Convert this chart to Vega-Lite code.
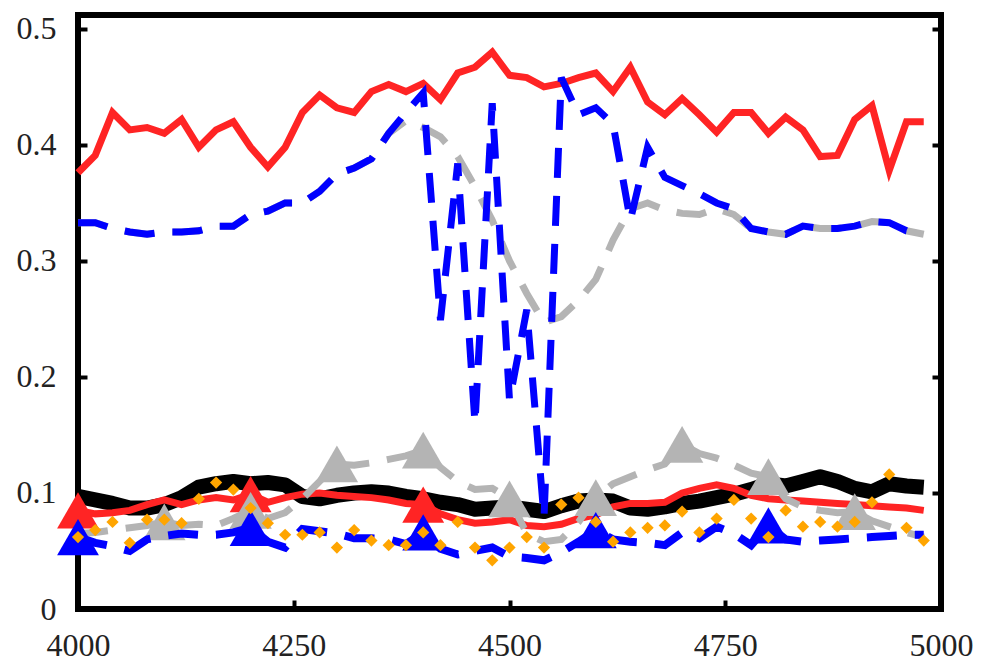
{
  "$schema": "https://vega.github.io/schema/vega-lite/v6.json",
  "width": 863,
  "height": 594,
  "autosize": "none",
  "padding": {"left": 78, "top": 15, "right": 47, "bottom": 59},
  "background": "white",
  "view": {"stroke": "black", "strokeWidth": 6, "fill": "white"},
  "config": {
    "view": {"stroke": "black", "strokeWidth": 6},
    "axis": {
      "tickSize": -9,
      "tickWidth": 4,
      "tickColor": "black",
      "domain": false,
      "grid": false,
      "labelFont": "Liberation Serif",
      "labelFontSize": 32,
      "labelColor": "#222222",
      "labelFlush": false,
      "labelOverlap": false,
      "labelBound": false,
      "title": null
    },
    "axisX": {"labelPadding": 30},
    "axisY": {"labelPadding": 31}
  },
  "datasets": {
    "redUpper": [
      {"x": 4000, "y": 0.376}, {"x": 4020, "y": 0.391}, {"x": 4040, "y": 0.428}, {"x": 4060, "y": 0.413}, {"x": 4080, "y": 0.415},
      {"x": 4100, "y": 0.410}, {"x": 4120, "y": 0.422}, {"x": 4140, "y": 0.398}, {"x": 4160, "y": 0.413}, {"x": 4180, "y": 0.420},
      {"x": 4200, "y": 0.398}, {"x": 4220, "y": 0.381}, {"x": 4240, "y": 0.398}, {"x": 4260, "y": 0.428}, {"x": 4280, "y": 0.443},
      {"x": 4300, "y": 0.432}, {"x": 4320, "y": 0.428}, {"x": 4340, "y": 0.446}, {"x": 4360, "y": 0.452}, {"x": 4380, "y": 0.446},
      {"x": 4400, "y": 0.453}, {"x": 4420, "y": 0.439}, {"x": 4440, "y": 0.462}, {"x": 4460, "y": 0.467}, {"x": 4480, "y": 0.480},
      {"x": 4500, "y": 0.460}, {"x": 4520, "y": 0.458}, {"x": 4540, "y": 0.450}, {"x": 4560, "y": 0.453}, {"x": 4580, "y": 0.458},
      {"x": 4600, "y": 0.462}, {"x": 4620, "y": 0.446}, {"x": 4640, "y": 0.467}, {"x": 4660, "y": 0.437}, {"x": 4680, "y": 0.426},
      {"x": 4700, "y": 0.440}, {"x": 4720, "y": 0.426}, {"x": 4740, "y": 0.411}, {"x": 4760, "y": 0.428}, {"x": 4780, "y": 0.428},
      {"x": 4800, "y": 0.410}, {"x": 4820, "y": 0.424}, {"x": 4840, "y": 0.413}, {"x": 4860, "y": 0.390}, {"x": 4880, "y": 0.391},
      {"x": 4900, "y": 0.422}, {"x": 4920, "y": 0.434}, {"x": 4940, "y": 0.378}, {"x": 4960, "y": 0.420}, {"x": 4980, "y": 0.420}
    ],
    "grayUpper": [
      {"x": 4000, "y": 0.333}, {"x": 4020, "y": 0.333}, {"x": 4040, "y": 0.328}, {"x": 4060, "y": 0.325}, {"x": 4080, "y": 0.323},
      {"x": 4100, "y": 0.325}, {"x": 4120, "y": 0.325}, {"x": 4140, "y": 0.326}, {"x": 4160, "y": 0.330}, {"x": 4180, "y": 0.330},
      {"x": 4200, "y": 0.340}, {"x": 4220, "y": 0.343}, {"x": 4240, "y": 0.350}, {"x": 4260, "y": 0.350}, {"x": 4280, "y": 0.360},
      {"x": 4300, "y": 0.375}, {"x": 4320, "y": 0.380}, {"x": 4340, "y": 0.388}, {"x": 4360, "y": 0.410}, {"x": 4380, "y": 0.421},
      {"x": 4400, "y": 0.415}, {"x": 4420, "y": 0.407}, {"x": 4440, "y": 0.390}, {"x": 4460, "y": 0.364}, {"x": 4480, "y": 0.335},
      {"x": 4500, "y": 0.300}, {"x": 4520, "y": 0.272}, {"x": 4540, "y": 0.247}, {"x": 4560, "y": 0.252}, {"x": 4580, "y": 0.266},
      {"x": 4600, "y": 0.284}, {"x": 4620, "y": 0.318}, {"x": 4640, "y": 0.345}, {"x": 4660, "y": 0.350}, {"x": 4680, "y": 0.344},
      {"x": 4700, "y": 0.341}, {"x": 4720, "y": 0.340}, {"x": 4740, "y": 0.345}, {"x": 4760, "y": 0.340}, {"x": 4780, "y": 0.328},
      {"x": 4800, "y": 0.325}, {"x": 4820, "y": 0.323}, {"x": 4840, "y": 0.330}, {"x": 4860, "y": 0.328}, {"x": 4880, "y": 0.328},
      {"x": 4900, "y": 0.330}, {"x": 4920, "y": 0.334}, {"x": 4940, "y": 0.333}, {"x": 4960, "y": 0.326}, {"x": 4980, "y": 0.323}
    ],
    "blueUpper": [
      {"x": 4000, "y": 0.333}, {"x": 4020, "y": 0.333}, {"x": 4040, "y": 0.328}, {"x": 4060, "y": 0.325}, {"x": 4080, "y": 0.323},
      {"x": 4100, "y": 0.325}, {"x": 4120, "y": 0.325}, {"x": 4140, "y": 0.326}, {"x": 4160, "y": 0.330}, {"x": 4180, "y": 0.330},
      {"x": 4200, "y": 0.340}, {"x": 4220, "y": 0.343}, {"x": 4240, "y": 0.350}, {"x": 4260, "y": 0.350}, {"x": 4280, "y": 0.360},
      {"x": 4300, "y": 0.375}, {"x": 4320, "y": 0.380}, {"x": 4340, "y": 0.388}, {"x": 4360, "y": 0.410}, {"x": 4380, "y": 0.428},
      {"x": 4400, "y": 0.445}, {"x": 4420, "y": 0.249}, {"x": 4440, "y": 0.384}, {"x": 4460, "y": 0.160}, {"x": 4480, "y": 0.436},
      {"x": 4500, "y": 0.180}, {"x": 4520, "y": 0.258}, {"x": 4540, "y": 0.079}, {"x": 4560, "y": 0.458}, {"x": 4580, "y": 0.426},
      {"x": 4600, "y": 0.432}, {"x": 4620, "y": 0.418}, {"x": 4640, "y": 0.335}, {"x": 4660, "y": 0.398}, {"x": 4680, "y": 0.372},
      {"x": 4700, "y": 0.365}, {"x": 4720, "y": 0.358}, {"x": 4740, "y": 0.350}, {"x": 4760, "y": 0.345}, {"x": 4780, "y": 0.328},
      {"x": 4800, "y": 0.325}, {"x": 4820, "y": 0.323}, {"x": 4840, "y": 0.330}, {"x": 4860, "y": 0.328}, {"x": 4880, "y": 0.328},
      {"x": 4900, "y": 0.330}, {"x": 4920, "y": 0.334}, {"x": 4940, "y": 0.333}, {"x": 4960, "y": 0.326}, {"x": 4980, "y": 0.323}
    ],
    "black": [
      {"x": 4000, "y": 0.097}, {"x": 4020, "y": 0.094}, {"x": 4040, "y": 0.091}, {"x": 4060, "y": 0.087}, {"x": 4080, "y": 0.087},
      {"x": 4100, "y": 0.090}, {"x": 4120, "y": 0.096}, {"x": 4140, "y": 0.105}, {"x": 4160, "y": 0.108}, {"x": 4180, "y": 0.110},
      {"x": 4200, "y": 0.108}, {"x": 4220, "y": 0.109}, {"x": 4240, "y": 0.107}, {"x": 4260, "y": 0.097}, {"x": 4280, "y": 0.095},
      {"x": 4300, "y": 0.098}, {"x": 4320, "y": 0.100}, {"x": 4340, "y": 0.101}, {"x": 4360, "y": 0.100}, {"x": 4380, "y": 0.097},
      {"x": 4400, "y": 0.095}, {"x": 4420, "y": 0.092}, {"x": 4440, "y": 0.090}, {"x": 4460, "y": 0.086}, {"x": 4480, "y": 0.087},
      {"x": 4500, "y": 0.088}, {"x": 4520, "y": 0.086}, {"x": 4540, "y": 0.084}, {"x": 4560, "y": 0.089}, {"x": 4580, "y": 0.093},
      {"x": 4600, "y": 0.094}, {"x": 4620, "y": 0.093}, {"x": 4640, "y": 0.087}, {"x": 4660, "y": 0.086}, {"x": 4680, "y": 0.088},
      {"x": 4700, "y": 0.091}, {"x": 4720, "y": 0.093}, {"x": 4740, "y": 0.096}, {"x": 4760, "y": 0.099}, {"x": 4780, "y": 0.103},
      {"x": 4800, "y": 0.108}, {"x": 4820, "y": 0.106}, {"x": 4840, "y": 0.110}, {"x": 4860, "y": 0.114}, {"x": 4880, "y": 0.110},
      {"x": 4900, "y": 0.104}, {"x": 4920, "y": 0.101}, {"x": 4940, "y": 0.108}, {"x": 4960, "y": 0.106}, {"x": 4980, "y": 0.105}
    ],
    "redLower": [
      {"x": 4000, "y": 0.085}, {"x": 4020, "y": 0.082}, {"x": 4040, "y": 0.083}, {"x": 4060, "y": 0.085}, {"x": 4080, "y": 0.090},
      {"x": 4100, "y": 0.094}, {"x": 4120, "y": 0.090}, {"x": 4140, "y": 0.094}, {"x": 4160, "y": 0.096}, {"x": 4180, "y": 0.094},
      {"x": 4200, "y": 0.099}, {"x": 4220, "y": 0.092}, {"x": 4240, "y": 0.096}, {"x": 4260, "y": 0.099}, {"x": 4280, "y": 0.100},
      {"x": 4300, "y": 0.098}, {"x": 4320, "y": 0.097}, {"x": 4340, "y": 0.096}, {"x": 4360, "y": 0.094}, {"x": 4380, "y": 0.091},
      {"x": 4400, "y": 0.090}, {"x": 4420, "y": 0.082}, {"x": 4440, "y": 0.077}, {"x": 4460, "y": 0.074}, {"x": 4480, "y": 0.075},
      {"x": 4500, "y": 0.077}, {"x": 4520, "y": 0.072}, {"x": 4540, "y": 0.071}, {"x": 4560, "y": 0.073}, {"x": 4580, "y": 0.078},
      {"x": 4600, "y": 0.081}, {"x": 4620, "y": 0.088}, {"x": 4640, "y": 0.091}, {"x": 4660, "y": 0.091}, {"x": 4680, "y": 0.092},
      {"x": 4700, "y": 0.100}, {"x": 4720, "y": 0.104}, {"x": 4740, "y": 0.107}, {"x": 4760, "y": 0.104}, {"x": 4780, "y": 0.098},
      {"x": 4800, "y": 0.095}, {"x": 4820, "y": 0.094}, {"x": 4840, "y": 0.093}, {"x": 4860, "y": 0.092}, {"x": 4880, "y": 0.091},
      {"x": 4900, "y": 0.090}, {"x": 4920, "y": 0.089}, {"x": 4940, "y": 0.088}, {"x": 4960, "y": 0.087}, {"x": 4980, "y": 0.085}
    ],
    "grayLower": [
      {"x": 4000, "y": 0.065}, {"x": 4020, "y": 0.066}, {"x": 4040, "y": 0.068}, {"x": 4060, "y": 0.070}, {"x": 4080, "y": 0.072},
      {"x": 4100, "y": 0.075}, {"x": 4120, "y": 0.072}, {"x": 4140, "y": 0.073}, {"x": 4160, "y": 0.072}, {"x": 4180, "y": 0.078},
      {"x": 4200, "y": 0.085}, {"x": 4220, "y": 0.078}, {"x": 4240, "y": 0.083}, {"x": 4260, "y": 0.095}, {"x": 4280, "y": 0.110},
      {"x": 4300, "y": 0.125}, {"x": 4320, "y": 0.124}, {"x": 4340, "y": 0.126}, {"x": 4360, "y": 0.129}, {"x": 4380, "y": 0.132},
      {"x": 4400, "y": 0.137}, {"x": 4420, "y": 0.122}, {"x": 4440, "y": 0.110}, {"x": 4460, "y": 0.103}, {"x": 4480, "y": 0.104},
      {"x": 4500, "y": 0.095}, {"x": 4520, "y": 0.065}, {"x": 4540, "y": 0.058}, {"x": 4560, "y": 0.060}, {"x": 4580, "y": 0.075},
      {"x": 4600, "y": 0.096}, {"x": 4620, "y": 0.108}, {"x": 4640, "y": 0.114}, {"x": 4660, "y": 0.120}, {"x": 4680, "y": 0.125},
      {"x": 4700, "y": 0.142}, {"x": 4720, "y": 0.134}, {"x": 4740, "y": 0.130}, {"x": 4760, "y": 0.124}, {"x": 4780, "y": 0.117},
      {"x": 4800, "y": 0.114}, {"x": 4820, "y": 0.095}, {"x": 4840, "y": 0.088}, {"x": 4860, "y": 0.085}, {"x": 4880, "y": 0.083},
      {"x": 4900, "y": 0.084}, {"x": 4920, "y": 0.076}, {"x": 4940, "y": 0.071}, {"x": 4960, "y": 0.066}, {"x": 4980, "y": 0.062}
    ],
    "blueLower": [
      {"x": 4000, "y": 0.062}, {"x": 4020, "y": 0.057}, {"x": 4040, "y": 0.054}, {"x": 4060, "y": 0.050}, {"x": 4080, "y": 0.060},
      {"x": 4100, "y": 0.063}, {"x": 4120, "y": 0.065}, {"x": 4140, "y": 0.064}, {"x": 4160, "y": 0.064}, {"x": 4180, "y": 0.066},
      {"x": 4200, "y": 0.070}, {"x": 4220, "y": 0.058}, {"x": 4240, "y": 0.053}, {"x": 4260, "y": 0.069}, {"x": 4280, "y": 0.067},
      {"x": 4300, "y": 0.065}, {"x": 4320, "y": 0.061}, {"x": 4340, "y": 0.061}, {"x": 4360, "y": 0.060}, {"x": 4380, "y": 0.056},
      {"x": 4400, "y": 0.066}, {"x": 4420, "y": 0.052}, {"x": 4440, "y": 0.047}, {"x": 4460, "y": 0.050}, {"x": 4480, "y": 0.053},
      {"x": 4500, "y": 0.045}, {"x": 4520, "y": 0.044}, {"x": 4540, "y": 0.042}, {"x": 4560, "y": 0.049}, {"x": 4580, "y": 0.058},
      {"x": 4600, "y": 0.068}, {"x": 4620, "y": 0.060}, {"x": 4640, "y": 0.058}, {"x": 4660, "y": 0.057}, {"x": 4680, "y": 0.055},
      {"x": 4700, "y": 0.066}, {"x": 4720, "y": 0.061}, {"x": 4740, "y": 0.071}, {"x": 4760, "y": 0.065}, {"x": 4780, "y": 0.055},
      {"x": 4800, "y": 0.072}, {"x": 4820, "y": 0.060}, {"x": 4840, "y": 0.058}, {"x": 4860, "y": 0.059}, {"x": 4880, "y": 0.060},
      {"x": 4900, "y": 0.061}, {"x": 4920, "y": 0.062}, {"x": 4940, "y": 0.063}, {"x": 4960, "y": 0.064}, {"x": 4980, "y": 0.064}
    ],
    "orange": [
      {"x": 4000, "y": 0.062}, {"x": 4020, "y": 0.068}, {"x": 4040, "y": 0.075}, {"x": 4060, "y": 0.057}, {"x": 4080, "y": 0.077},
      {"x": 4100, "y": 0.077}, {"x": 4120, "y": 0.074}, {"x": 4140, "y": 0.095}, {"x": 4160, "y": 0.109}, {"x": 4180, "y": 0.103},
      {"x": 4200, "y": 0.087}, {"x": 4220, "y": 0.074}, {"x": 4240, "y": 0.064}, {"x": 4260, "y": 0.064}, {"x": 4280, "y": 0.066},
      {"x": 4300, "y": 0.053}, {"x": 4320, "y": 0.068}, {"x": 4340, "y": 0.059}, {"x": 4360, "y": 0.055}, {"x": 4380, "y": 0.055},
      {"x": 4400, "y": 0.066}, {"x": 4420, "y": 0.055}, {"x": 4440, "y": 0.075}, {"x": 4460, "y": 0.053}, {"x": 4480, "y": 0.042},
      {"x": 4500, "y": 0.053}, {"x": 4520, "y": 0.062}, {"x": 4540, "y": 0.053}, {"x": 4560, "y": 0.090}, {"x": 4580, "y": 0.096},
      {"x": 4600, "y": 0.075}, {"x": 4620, "y": 0.058}, {"x": 4640, "y": 0.066}, {"x": 4660, "y": 0.070}, {"x": 4680, "y": 0.072},
      {"x": 4700, "y": 0.084}, {"x": 4720, "y": 0.066}, {"x": 4740, "y": 0.078}, {"x": 4760, "y": 0.094}, {"x": 4780, "y": 0.078},
      {"x": 4800, "y": 0.062}, {"x": 4820, "y": 0.085}, {"x": 4840, "y": 0.071}, {"x": 4860, "y": 0.075}, {"x": 4880, "y": 0.071},
      {"x": 4900, "y": 0.075}, {"x": 4920, "y": 0.092}, {"x": 4940, "y": 0.116}, {"x": 4960, "y": 0.070}, {"x": 4980, "y": 0.059}
    ],
    "redMarks": [
      {"x": 4000, "y": 0.085}, {"x": 4200, "y": 0.099}, {"x": 4400, "y": 0.090}
    ],
    "grayMarks": [
      {"x": 4100, "y": 0.075}, {"x": 4200, "y": 0.085}, {"x": 4300, "y": 0.125}, {"x": 4400, "y": 0.137}, {"x": 4500, "y": 0.095},
      {"x": 4600, "y": 0.096}, {"x": 4700, "y": 0.142}, {"x": 4800, "y": 0.114}, {"x": 4900, "y": 0.084}
    ],
    "blueMarks": [
      {"x": 4000, "y": 0.062}, {"x": 4200, "y": 0.070}, {"x": 4400, "y": 0.066}, {"x": 4600, "y": 0.068}, {"x": 4800, "y": 0.072}
    ]
  },
  "resolve": {"axis": {"y": "independent"}},
  "layer": [
    {
      "layer": [
        {
          "data": {"name": "black"},
          "mark": {"type": "line", "color": "black", "strokeWidth": 15, "strokeJoin": "round"},
          "encoding": {
            "x": {
              "field": "x", "type": "quantitative",
              "scale": {"domain": [4000, 5000], "nice": false, "zero": false},
              "axis": {"values": [4000, 4250, 4500, 4750, 5000], "format": "d"}
            },
            "y": {
              "field": "y", "type": "quantitative",
              "scale": {"domain": [0, 0.512], "nice": false, "zero": false},
              "axis": {"values": [0, 0.1, 0.2, 0.3, 0.4, 0.5], "format": ".1~f"}
            }
          }
        },
        {
          "data": {"name": "redLower"},
          "mark": {"type": "line", "color": "#ff2424", "strokeWidth": 7},
          "encoding": {"x": {"field": "x", "type": "quantitative"}, "y": {"field": "y", "type": "quantitative"}}
        },
        {
          "data": {"name": "redMarks"},
          "mark": {"type": "point", "shape": "triangle-up", "filled": true, "size": 1750, "color": "#ff2424", "opacity": 1},
          "encoding": {"x": {"field": "x", "type": "quantitative"}, "y": {"field": "y", "type": "quantitative"}}
        },
        {
          "data": {"name": "grayLower"},
          "mark": {"type": "line", "color": "#b4b4b4", "strokeWidth": 7, "strokeDash": [30, 18]},
          "encoding": {"x": {"field": "x", "type": "quantitative"}, "y": {"field": "y", "type": "quantitative"}}
        },
        {
          "data": {"name": "grayMarks"},
          "mark": {"type": "point", "shape": "triangle-up", "filled": true, "size": 1800, "color": "#b4b4b4", "opacity": 1},
          "encoding": {"x": {"field": "x", "type": "quantitative"}, "y": {"field": "y", "type": "quantitative"}}
        },
        {
          "data": {"name": "redUpper"},
          "mark": {"type": "line", "color": "#ff2424", "strokeWidth": 7},
          "encoding": {"x": {"field": "x", "type": "quantitative"}, "y": {"field": "y", "type": "quantitative"}}
        },
        {
          "data": {"name": "grayUpper"},
          "mark": {"type": "line", "color": "#b4b4b4", "strokeWidth": 7, "strokeDash": [30, 18]},
          "encoding": {"x": {"field": "x", "type": "quantitative"}, "y": {"field": "y", "type": "quantitative"}}
        },
        {
          "data": {"name": "blueUpper"},
          "mark": {"type": "line", "color": "#0000ff", "strokeWidth": 7, "strokeDash": [30, 18]},
          "encoding": {"x": {"field": "x", "type": "quantitative"}, "y": {"field": "y", "type": "quantitative"}}
        },
        {
          "data": {"name": "blueLower"},
          "mark": {"type": "line", "color": "#0000ff", "strokeWidth": 8, "strokeDash": [30, 18]},
          "encoding": {"x": {"field": "x", "type": "quantitative"}, "y": {"field": "y", "type": "quantitative"}}
        },
        {
          "data": {"name": "blueMarks"},
          "mark": {"type": "point", "shape": "triangle-up", "filled": true, "size": 1750, "color": "#0000ff", "opacity": 1},
          "encoding": {"x": {"field": "x", "type": "quantitative"}, "y": {"field": "y", "type": "quantitative"}}
        },
        {
          "data": {"name": "orange"},
          "mark": {"type": "point", "shape": "diamond", "filled": true, "size": 150, "color": "#ffa500", "opacity": 1},
          "encoding": {"x": {"field": "x", "type": "quantitative"}, "y": {"field": "y", "type": "quantitative"}}
        }
      ]
    },
    {
      "data": {"name": "redMarks"},
      "mark": {"type": "point", "opacity": 0},
      "encoding": {
        "x": {"field": "x", "type": "quantitative"},
        "y": {
          "field": "y", "type": "quantitative",
          "axis": {"orient": "right", "labels": false, "tickSize": -9, "values": [0.1, 0.2, 0.3, 0.4, 0.5]}
        }
      }
    }
  ]
}
